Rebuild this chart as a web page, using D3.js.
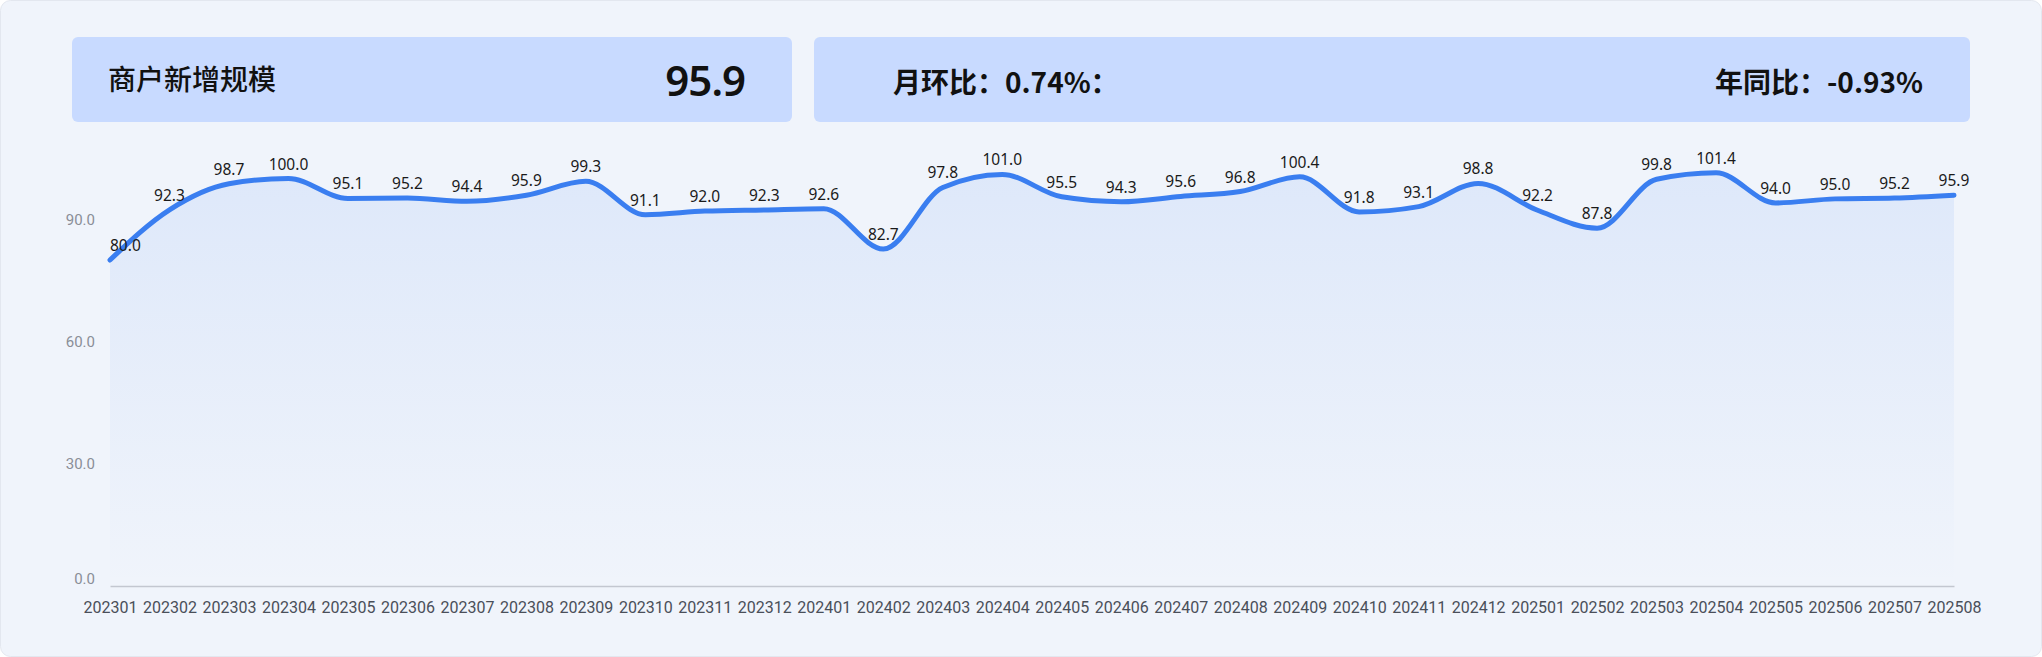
<!DOCTYPE html>
<html>
<head>
<meta charset="utf-8">
<script src="https://cdn.jsdelivr.net/npm/d3@7"></script>
<style>
  html, body { margin:0; padding:0; background:#ffffff; }
  svg { display:block; }
</style>
</head>
<body>
<div id="chart"></div>
<script>
// months and values
var months = ["202301","202302","202303","202304","202305","202306","202307","202308","202309","202310","202311","202312",
              "202401","202402","202403","202404","202405","202406","202407","202408","202409","202410","202411","202412",
              "202501","202502","202503","202504","202505","202506","202507","202508"];
var values = [80.0, 92.3, 98.7, 100.0, 95.1, 95.2, 94.4, 95.9, 99.3, 91.1, 92.0, 92.3,
              92.6, 82.7, 97.8, 101.0, 95.5, 94.3, 95.6, 96.8, 100.4, 91.8, 93.1, 98.8,
              92.2, 87.8, 99.8, 101.4, 94.0, 95.0, 95.2, 95.9];
var yTicks = [0, 30, 60, 90];
var headerTitle = "商户新增规模",
    headerValue = "95.9",
    momText = "月环比：0.74%：",
    yoyText = "年同比：-0.93%";

var width = 2042,
    height = 657,
    margin = { left:110, right:88, top:97, bottom:71 };

function translate(x, y){ return "translate(" + x + "," + y + ")"; }

var data = months.map(function(m, i){ return { m:m, v:values[i] }; });

var xScale = d3.scalePoint()
    .domain(months)
    .range([margin.left, width - margin.right]);

var yScale = d3.scaleLinear()
    .domain([0, 120])
    .range([height - margin.bottom, margin.top]);

var svg = d3.select("#chart").append("svg")
    .attr("width", width)
    .attr("height", height);

// card
svg.append("rect")
    .attr("x", 0.5).attr("y", 0.5)
    .attr("width", width - 1).attr("height", height - 1)
    .attr("rx", 10)
    .attr("fill", "#f0f4fb")
    .attr("stroke", "#e3e7ef");

// header boxes
var head = svg.append("g");
head.append("rect")
    .attr("x", 72).attr("y", 37).attr("width", 720).attr("height", 85)
    .attr("rx", 6).attr("fill", "#c8daff");
head.append("rect")
    .attr("x", 814).attr("y", 37).attr("width", 1156).attr("height", 85)
    .attr("rx", 6).attr("fill", "#c8daff");

head.append("text")
    .attr("x", 108).attr("y", 80).attr("dy", "0.35em")
    .attr("font-family", "'Noto Sans CJK SC', sans-serif")
    .attr("font-size", 28).attr("font-weight", 500)
    .attr("fill", "#111")
    .text(headerTitle);
head.append("text")
    .attr("x", 745).attr("y", 81).attr("dy", "0.35em")
    .attr("text-anchor", "end")
    .attr("font-family", "'Noto Sans', sans-serif")
    .attr("font-size", 42).attr("font-weight", 600)
    .attr("letter-spacing", -1)
    .attr("fill", "#111")
    .text(headerValue);
head.append("text")
    .attr("x", 893).attr("y", 83).attr("dy", "0.35em")
    .attr("font-family", "'Noto Sans CJK SC', sans-serif")
    .attr("font-size", 28).attr("font-weight", 600)
    .attr("fill", "#111")
    .text(momText);
head.append("text")
    .attr("x", 1923).attr("y", 83).attr("dy", "0.35em")
    .attr("text-anchor", "end")
    .attr("font-family", "'Noto Sans CJK SC', sans-serif")
    .attr("font-size", 28).attr("font-weight", 600)
    .attr("fill", "#111")
    .text(yoyText);

// gradient for area
var defs = svg.append("defs");
var grad = defs.append("linearGradient")
    .attr("id", "areaGrad")
    .attr("x1", 0).attr("y1", 0).attr("x2", 0).attr("y2", 1);
grad.append("stop").attr("offset", "0%").attr("stop-color", "#3b7ef0").attr("stop-opacity", 0.1);
grad.append("stop").attr("offset", "100%").attr("stop-color", "#3b7ef0").attr("stop-opacity", 0.0);

var area = d3.area()
    .x(function(d){ return xScale(d.m); })
    .y0(yScale(0))
    .y1(function(d){ return yScale(d.v); })
    .curve(d3.curveMonotoneX);

var line = d3.line()
    .x(function(d){ return xScale(d.m); })
    .y(function(d){ return yScale(d.v); })
    .curve(d3.curveMonotoneX);

svg.append("path")
    .datum(data)
    .attr("d", area)
    .attr("fill", "url(#areaGrad)");

// x axis
var xAxis = d3.axisBottom(xScale).tickSize(0).tickPadding(16);
var gx = svg.append("g")
    .attr("class", "x-axis")
    .attr("transform", translate(0, yScale(0)))
    .call(xAxis);
gx.select(".domain").attr("stroke", "#c3c7d0").attr("stroke-width", 1.5);
gx.selectAll("text")
    .attr("font-family", "Roboto, sans-serif")
    .attr("font-size", 16)
    .attr("fill", "#4a4f59");

// y axis
var yAxis = d3.axisLeft(yScale).tickValues(yTicks).tickSize(0).tickPadding(15)
    .tickFormat(d3.format(".1f"));
var gy = svg.append("g")
    .attr("class", "y-axis")
    .attr("transform", translate(margin.left, 0))
    .call(yAxis);
gy.select(".domain").remove();
gy.selectAll("text")
    .attr("font-family", "Roboto, sans-serif")
    .attr("font-size", 15)
    .attr("fill", "#8a8e97")
    .attr("dy", function(d){ return d === 0 ? "-0.15em" : "0.32em"; });

// line
svg.append("path")
    .datum(data)
    .attr("d", line)
    .attr("fill", "none")
    .attr("stroke", "#3a7ef0")
    .attr("stroke-width", 5)
    .attr("stroke-linecap", "round");

// value labels
svg.append("g")
    .selectAll("text")
    .data(data)
    .enter().append("text")
    .attr("x", function(d){ return xScale(d.m); })
    .attr("y", function(d){ return yScale(d.v) - 9; })
    .attr("text-anchor", function(d, i){ return i === 0 ? "start" : "middle"; })
    .attr("font-family", "'Noto Sans', sans-serif")
    .attr("font-size", 15.5)
    .attr("fill", "#1a1a1a")
    .text(function(d){ return d.v.toFixed(1); });
</script>
</body>
</html>
